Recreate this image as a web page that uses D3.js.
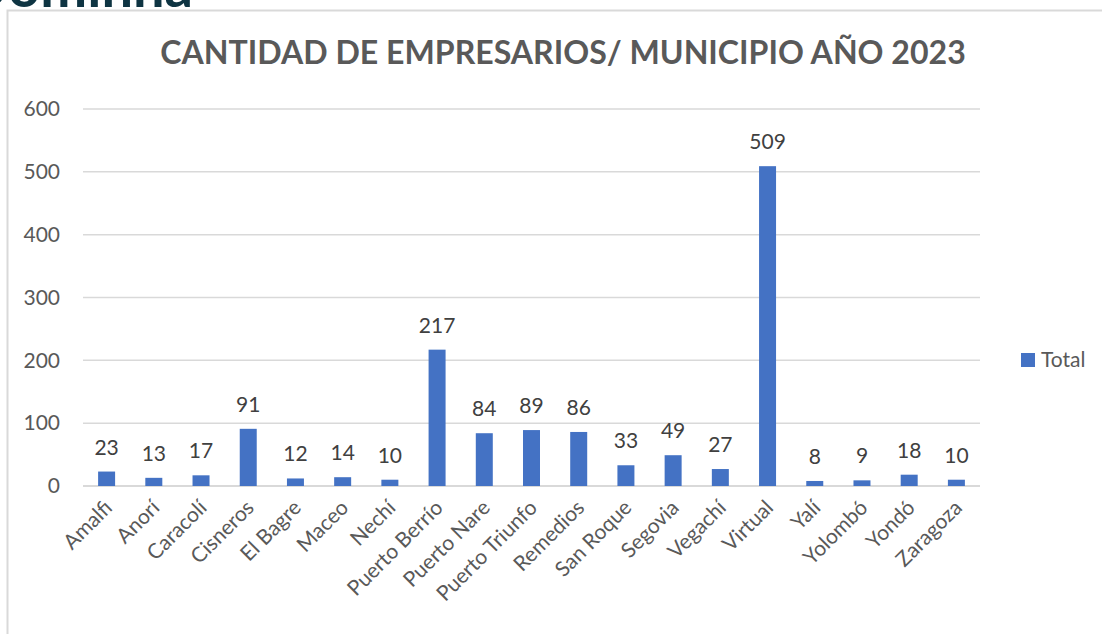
<!DOCTYPE html>
<html>
<head>
<meta charset="utf-8">
<script src="https://cdn.jsdelivr.net/npm/d3@7"></script>
<style>
  body { margin: 0; background: #fff; }
  svg { font-family: Lato, "Open Sans", sans-serif; }
</style>
</head>
<body>
<div id="chart"></div>
<script>
const municipios = ["Amalfi", "Anorí", "Caracolí", "Cisneros", "El Bagre", "Maceo", "Nechí",
    "Puerto Berrío", "Puerto Nare", "Puerto Triunfo", "Remedios", "San Roque", "Segovia",
    "Vegachí", "Virtual", "Yalí", "Yolombó", "Yondó", "Zaragoza"];
const totales = [23, 13, 17, 91, 12, 14, 10, 217, 84, 89, 86, 33, 49, 27, 509, 8, 9, 18, 10];
const yTicks = [0, 100, 200, 300, 400, 500, 600];
const serieNombre = "Total";
const titulo = "CANTIDAD DE EMPRESARIOS/ MUNICIPIO AÑO 2023";

const WIDTH = 1102, HEIGHT = 634;
const plot = { left: 83, right: 980, top: 109, bottom: 486 };

const svg = d3.select("#chart")
    .append("svg")
    .attr("width", WIDTH)
    .attr("height", HEIGHT);

// header text cut off at the top of the screenshot
const head = svg.append("text")
    .text("Dominna")
    .attr("x", 0)
    .attr("y", 7)
    .attr("font-size", "56px")
    .attr("font-weight", "bold")
    .attr("fill", "#0e3442");
head.attr("x", 193 - head.node().getComputedTextLength());

// chart frame
svg.append("rect")
    .attr("x", 7.5).attr("y", 10.5)
    .attr("width", 1200).attr("height", 700)
    .attr("fill", "none")
    .attr("stroke", "#d9d9d9")
    .attr("stroke-width", 2);

const x = d3.scaleBand()
    .domain(municipios)
    .range([plot.left, plot.right])
    .paddingInner(0.64)
    .paddingOuter(0.32);

const y = d3.scaleLinear()
    .domain([0, 600])
    .range([plot.bottom, plot.top]);

// gridlines
svg.append("g")
    .selectAll("line")
    .data(yTicks)
    .join("line")
    .attr("x1", plot.left)
    .attr("x2", plot.right)
    .attr("y1", d => y(d))
    .attr("y2", d => y(d))
    .attr("stroke", "#d9d9d9")
    .attr("stroke-width", d => d === 0 ? 2 : 1.5);

// y axis labels
const yAxis = svg.append("g")
    .attr("transform", `translate(${plot.left - 23},0)`)
    .call(d3.axisLeft(y).tickValues(yTicks).tickSize(0).tickPadding(0));
yAxis.select(".domain").remove();
yAxis.selectAll("text")
    .attr("font-family", "Lato, sans-serif")
    .attr("font-size", "21px")
    .attr("fill", "#595959");

// x axis labels
const xAxis = svg.append("g")
    .attr("transform", `translate(0,${plot.bottom})`)
    .call(d3.axisBottom(x).tickSize(0).tickPadding(0));
xAxis.select(".domain").remove();
xAxis.selectAll("text")
    .attr("font-family", "Lato, sans-serif")
    .attr("font-size", "21px")
    .attr("fill", "#595959")
    .attr("text-anchor", "end")
    .attr("dy", "0")
    .attr("transform", "translate(7,23) rotate(-45)");

// bars
svg.append("g")
    .selectAll("rect")
    .data(totales)
    .join("rect")
    .attr("x", (d, i) => x(municipios[i]))
    .attr("y", d => y(d))
    .attr("width", x.bandwidth())
    .attr("height", d => y(0) - y(d))
    .attr("fill", "#4472c4");

// data labels
svg.append("g")
    .selectAll("text")
    .data(totales)
    .join("text")
    .text(d => d)
    .attr("x", (d, i) => x(municipios[i]) + x.bandwidth() / 2)
    .attr("y", d => y(d) - 17)
    .attr("text-anchor", "middle")
    .attr("font-size", "21px")
    .attr("fill", "#404040");

// title
const t = svg.append("text")
    .text(titulo)
    .attr("x", 563)
    .attr("y", 64)
    .attr("text-anchor", "middle")
    .attr("font-size", "30px")
    .attr("font-weight", "bold")
    .attr("fill", "#595959");
const w = t.node().getComputedTextLength();
t.attr("font-size", (30 * 806 / w) + "px");

// legend
svg.append("rect")
    .attr("x", 1021).attr("y", 353)
    .attr("width", 14).attr("height", 14)
    .attr("fill", "#4472c4");
svg.append("text")
    .text(serieNombre)
    .attr("x", 1041)
    .attr("y", 367)
    .attr("font-size", "21px")
    .attr("fill", "#595959");
</script>
</body>
</html>
